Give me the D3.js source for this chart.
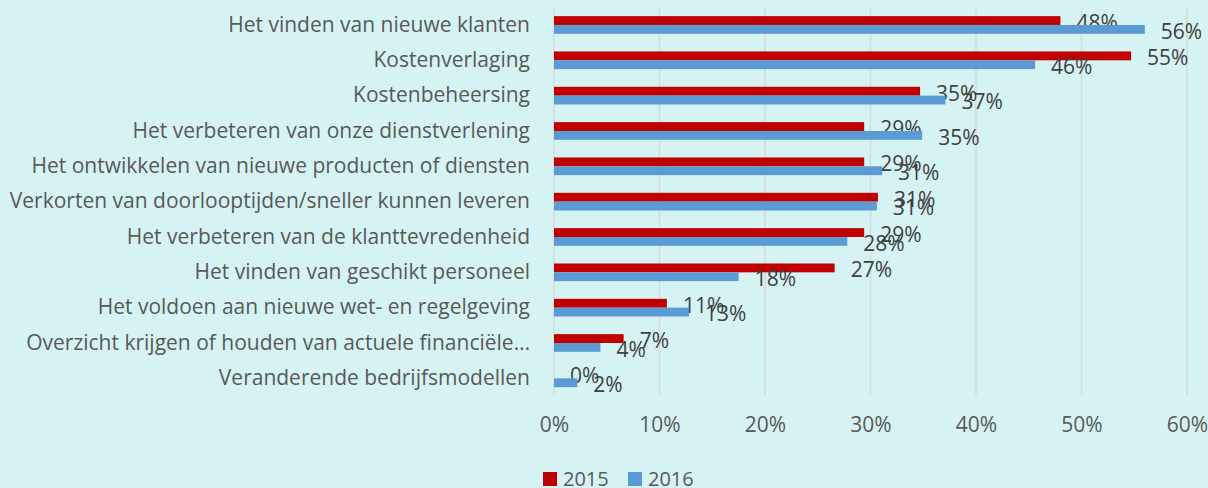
<!DOCTYPE html>
<html>
<head>
<meta charset="utf-8">
<script src="https://cdn.jsdelivr.net/npm/d3@7/dist/d3.min.js"></script>
<style>
  body { margin: 0; background: #d5f3f3; }
  svg { display: block; font-family: 'Open Sans', sans-serif; }
</style>
</head>
<body>
<div id="chart"></div>
<script>
// chart values
var categories = [
  'Het vinden van nieuwe klanten',
  'Kostenverlaging',
  'Kostenbeheersing',
  'Het verbeteren van onze dienstverlening',
  'Het ontwikkelen van nieuwe producten of diensten',
  'Verkorten van doorlooptijden/sneller kunnen leveren',
  'Het verbeteren van de klanttevredenheid',
  'Het vinden van geschikt personeel',
  'Het voldoen aan nieuwe wet- en regelgeving',
  'Overzicht krijgen of houden van actuele financiële…',
  'Veranderende bedrijfsmodellen'
];
var series = ['2015', '2016'];
var values2015 = [0.480, 0.547, 0.347, 0.294, 0.294, 0.307, 0.294, 0.266, 0.107, 0.066, 0.000];
var values2016 = [0.560, 0.456, 0.371, 0.349, 0.311, 0.306, 0.278, 0.175, 0.128, 0.044, 0.022];
var ticks = [0, 0.1, 0.2, 0.3, 0.4, 0.5, 0.6];

var template = {
  width: 1208,
  height: 488,
  left: 554,
  right: 1187,
  top: 7.3,
  bottom: 396,
  colors: ['#c00000', '#5b9bd5']
};

(function(cfg) {
  var svg = d3.select('#chart')
    .append('svg')
    .attr('width', cfg.width)
    .attr('height', cfg.height);

  svg.append('rect')
    .attr('width', cfg.width)
    .attr('height', cfg.height)
    .attr('fill', '#d5f3f3');

  var x = d3.scaleLinear().domain([0, 0.6]).range([cfg.left, cfg.right]);
  var y = d3.scaleBand()
    .domain(categories)
    .range([cfg.top, cfg.bottom])
    .paddingInner(0.5)
    .paddingOuter(0.25);
  var sub = d3.scaleBand().domain(series).range([0, y.bandwidth()]);
  var pct = d3.format('.0%');

  // gridlines
  svg.append('g')
    .selectAll('line')
    .data(ticks)
    .enter()
    .append('line')
    .attr('x1', d => x(d))
    .attr('x2', d => x(d))
    .attr('y1', cfg.top + 1)
    .attr('y2', cfg.bottom - 1)
    .attr('stroke', '#d9d9d9')
    .attr('stroke-width', 1.5);

  // x axis labels
  var xAxis = d3.axisBottom(x).tickValues(ticks).tickFormat(pct).tickSize(0).tickPadding(0);
  var gx = svg.append('g')
    .attr('transform', 'translate(0,' + 417 + ')')
    .call(xAxis);
  gx.select('.domain').remove();
  gx.selectAll('text')
    .attr('dy', '0.71em')
    .attr('fill', '#595959')
    .style('font-size', '21px')
    .style('font-family', "'Open Sans', sans-serif");

  // category labels
  var yAxis = d3.axisLeft(y).tickSize(0).tickPadding(24);
  var gy = svg.append('g')
    .attr('transform', 'translate(' + cfg.left + ',0)')
    .call(yAxis);
  gy.select('.domain').remove();
  gy.selectAll('text')
    .attr('fill', '#595959')
    .style('font-size', '21px')
    .style('font-family', "'Open Sans', sans-serif");

  var all = [values2015, values2016];
  series.forEach(function(s, i) {
    var rows = categories.map((c, j) => ({ cat: c, v: all[i][j] }));
    var g = svg.append('g');
    g.selectAll('rect')
      .data(rows)
      .enter()
      .append('rect')
      .attr('x', x(0))
      .attr('y', d => y(d.cat) + sub(s))
      .attr('width', d => x(d.v) - x(0))
      .attr('height', sub.bandwidth())
      .attr('fill', cfg.colors[i]);
    g.selectAll('text')
      .data(rows)
      .enter()
      .append('text')
      .attr('x', d => x(d.v) + 16)
      .attr('y', d => y(d.cat) + sub(s) + sub.bandwidth() / 2 + 2)
      .attr('dy', '0.35em')
      .attr('fill', '#404040')
      .style('font-size', '21px')
      .text(d => pct(d.v));
  });

  // legend
  var lg = svg.append('g').attr('transform', 'translate(543,472)');
  series.forEach(function(s, i) {
    var item = lg.append('g').attr('transform', 'translate(' + i * 85 + ',0)');
    item.append('rect')
      .attr('width', 14)
      .attr('height', 14)
      .attr('fill', cfg.colors[i]);
    item.append('text')
      .attr('x', 20)
      .attr('y', 7)
      .attr('dy', '0.35em')
      .attr('fill', '#595959')
      .style('font-size', '20px')
      .text(s);
  });
})(template);
</script>
</body>
</html>
